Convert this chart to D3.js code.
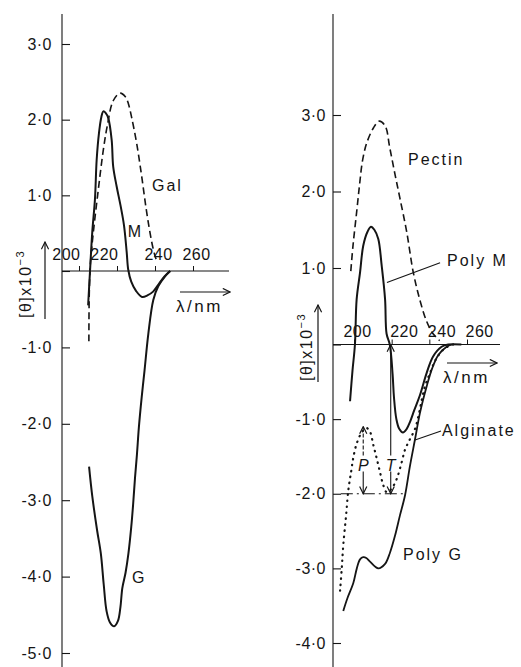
<!DOCTYPE html>
<html>
<head>
<meta charset="utf-8">
<script src="https://cdn.jsdelivr.net/npm/d3@7"></script>
<style>
  body { margin: 0; background: #fff; }
  text { font-family: "Liberation Sans", Arial, sans-serif; fill: #151515; }
  .tick text { font-size: 16px; letter-spacing: 0.5px; }
  .curve { fill: none; stroke: #151515; }
</style>
</head>
<body>
<div id="chart"></div>
<script>
// axis ticks
const wavelengthTicks = [200, 220, 240, 260];
const leftValueTicks = [-5, -4, -3, -2, -1, 0, 1, 2, 3];
const rightValueTicks = [-4, -3, -2, -1, 0, 1, 2, 3];

// left panel: [wavelength nm, [θ] x 10^-3]
const gal = [[205.2,-0.92],[205.4,-0.3],[206,0.1],[207.5,0.5],[209.8,1.0],[212.8,1.6],[214.9,1.92],
  [218,2.25],[221.6,2.35],[224.5,2.3],[226,2.21],[227.7,2.03],[230.4,1.68],[233,1.25],[235.6,0.78],
  [238.3,0.38],[240,0.2],[241,0.13]];
const polyMLeft = [[204.8,-0.45],[205.8,0],[207,0.52],[208.4,0.95],[209.3,1.47],[210.5,1.82],[211.8,2.04],
  [212.8,2.11],[214,2.09],[215.4,2.02],[217.2,1.73],[218,1.38],[219.8,1.12],[221.9,0.86],[223.7,0.6],
  [225.1,0.25],[225.9,0.02],[227.5,-0.14],[230,-0.26],[233.2,-0.34],[236,-0.32],[239,-0.27],[242,-0.17],
  [245,-0.07],[248,0]];
const polyGLeft = [[205.3,-2.56],[207,-2.95],[209.5,-3.39],[211.5,-3.7],[213,-4.1],[214.5,-4.45],[216.3,-4.6],
  [218.5,-4.65],[220.5,-4.58],[221.8,-4.4],[222.8,-4.15],[224.5,-3.95],[226,-3.7],[227.5,-3.35],[228.5,-3.05],
  [229.5,-2.7],[230.5,-2.4],[231.5,-2.05],[233,-1.65],[234.5,-1.3],[236.5,-0.82],[239.1,-0.38],[241.7,-0.2],
  [245.3,-0.07],[248,0]];

// right panel
const pectin = [[198.3,0.96],[199.5,1.3],[201.4,1.73],[203,2.1],[204.5,2.4],[206.7,2.63],[210.3,2.83],
  [213.4,2.92],[216.5,2.86],[219,2.57],[221.8,2.22],[224.4,1.91],[228,1.47],[231.5,0.94],[235,0.58],
  [238.6,0.3],[242,0.14],[245.5,0.05]];
const polyM = [[197.9,-0.76],[199.2,-0.35],[200.5,0],[201.4,0.59],[203.2,0.94],[204.9,1.29],[207.1,1.47],
  [209,1.54],[210.8,1.5],[212.9,1.38],[214.7,1.03],[216.5,0.59],[217.3,0.14],[219,0],[220.5,-0.4],
  [221.2,-0.7],[222.5,-1.0],[224,-1.13],[226,-1.18],[228,-1.13],[229.7,-1.04],[232,-0.88],[235,-0.68],
  [238.6,-0.38],[242,-0.16],[246.5,-0.03],[250,0],[257,0]];
const polyG = [[194.3,-3.57],[196.5,-3.4],[199.6,-3.2],[201.5,-3.0],[203.2,-2.88],[204.9,-2.85],[206.5,-2.86],
  [208.5,-2.91],[212.9,-3.0],[216.5,-2.94],[219.1,-2.79],[221.8,-2.56],[224.4,-2.29],[227.1,-2.02],
  [229.7,-1.63],[232.4,-1.27],[235,-0.92],[238.6,-0.56],[241.5,-0.32],[244.8,-0.14],[249.2,-0.03],[252,0]];
const alginate = [[192.6,-3.3],[193.5,-3.0],[194.3,-2.69],[195.8,-2.29],[197,-1.95],[198.5,-1.7],[199.6,-1.52],
  [201.4,-1.33],[204.1,-1.18],[206.7,-1.12],[208.5,-1.17],[210.3,-1.35],[212.1,-1.53],[213.8,-1.71],
  [215.6,-1.89],[217.4,-1.98],[220,-1.93],[222.7,-1.8],[225.3,-1.58],[227.1,-1.41],[229.7,-1.27],
  [232.4,-1.13],[234.2,-0.96],[236,-0.74],[237.7,-0.56],[240.4,-0.38],[243.9,-0.18],[248.3,-0.05],[252.7,0]];

// P and T markers on the alginate curve (nm, top value), both down to -2.0
const markerNames = ["P", "T"];
const markerNm = [204.9, 219.5];
const markerTop = [-1.1, 0];
const markerBase = -2.0;

const width = 521, height = 667;

const svg = d3.select("#chart").append("svg")
    .attr("width", width)
    .attr("height", height);

svg.append("rect").attr("width", width).attr("height", height).attr("fill", "#fff");

const defs = svg.append("defs");
defs.append("marker")
    .attr("id", "open-arrow")
    .attr("viewBox", "0 0 10 10")
    .attr("refX", 9).attr("refY", 5)
    .attr("markerWidth", 9).attr("markerHeight", 9)
    .attr("markerUnits", "userSpaceOnUse")
    .attr("orient", "auto-start-reverse")
    .append("path")
    .attr("d", "M1,1 L9,5 L1,9")
    .attr("fill", "none").attr("stroke", "#151515").attr("stroke-width", 1.3);

const fmt = d => d === 0 ? "" : (d < 0 ? "-" : "") + Math.abs(d) + "·0";

function drawPanel(opt) {
    const g = svg.append("g");
    const x = opt.x, y = opt.y;

    // vertical axis
    g.append("line")
        .attr("x1", opt.axisX).attr("x2", opt.axisX)
        .attr("y1", 14).attr("y2", height)
        .attr("stroke", "#151515").attr("stroke-width", 1.1);

    const yAxis = g.append("g")
        .attr("transform", `translate(${opt.axisX},0)`)
        .call(d3.axisLeft(y).tickValues(opt.valueTicks).tickFormat(fmt)
            .tickSizeInner(-8).tickSizeOuter(0).tickPadding(opt.labelPad));
    yAxis.select(".domain").remove();
    yAxis.selectAll(".tick line").attr("stroke", "#151515").attr("stroke-width", 1.1);
    yAxis.selectAll(".tick text").attr("fill", "#151515").style("font-family", "Liberation Sans, Arial, sans-serif");

    // horizontal axis at zero
    g.append("line")
        .attr("x1", opt.axisX).attr("x2", opt.xEnd)
        .attr("y1", y(0)).attr("y2", y(0))
        .attr("stroke", "#151515").attr("stroke-width", 1.1);

    const xAxis = g.append("g")
        .attr("transform", `translate(0,${y(0)})`)
        .call(d3.axisTop(x).tickValues(wavelengthTicks).tickFormat(d3.format("d"))
            .tickSizeInner(5).tickSizeOuter(0).tickPadding(opt.xPad));
    xAxis.select(".domain").remove();
    xAxis.selectAll(".tick line").attr("stroke", "#151515");
    xAxis.selectAll(".tick text")
        .attr("fill", "#151515")
        .style("font-family", "Liberation Sans, Arial, sans-serif")
        .attr("text-anchor", (d, i) => opt.xAnchor[i])
        .attr("dx", (d, i) => opt.xAnchor[i] === "start" ? -2 : (opt.xAnchor[i] === "end" ? 1 : 3));

    const line = d3.line()
        .x(d => x(d[0]))
        .y(d => y(d[1]))
        .curve(d3.curveCatmullRom.alpha(0.5));

    opt.series.forEach(s => {
        g.append("path")
            .datum(s.data)
            .attr("class", "curve")
            .attr("d", line)
            .attr("stroke-width", s.width)
            .attr("stroke-dasharray", s.dash)
            .attr("stroke-linecap", s.cap || "butt");
    });

    opt.labels.forEach(l => {
        g.append("text")
            .attr("x", x(l.at[0])).attr("y", y(l.at[1]))
            .attr("font-size", 16)
            .attr("letter-spacing", 2)
            .text(l.text);
        if (l.leader) {
            g.append("line")
                .attr("x1", x(l.leader[0][0])).attr("y1", y(l.leader[0][1]))
                .attr("x2", x(l.leader[1][0])).attr("y2", y(l.leader[1][1]))
                .attr("stroke", "#151515").attr("stroke-width", 1.1);
        }
    });

    // rotated y title with arrow
    const t = g.append("text")
        .attr("transform", `translate(${opt.titleX},${opt.titleY}) rotate(-90)`)
        .attr("font-size", 16)
        .attr("letter-spacing", 1.5);
    t.append("tspan").text("[θ]x10");
    t.append("tspan").attr("font-size", 11).attr("dy", -7).text("−3");
    g.append("line")
        .attr("x1", opt.arrowX).attr("x2", opt.arrowX)
        .attr("y1", opt.titleY + 1).attr("y2", opt.titleY - 76)
        .attr("stroke", "#151515").attr("stroke-width", 1.2)
        .attr("marker-end", "url(#open-arrow)");

    // λ/nm with arrow above
    g.append("text")
        .attr("x", opt.lambdaX).attr("y", opt.lambdaY)
        .attr("font-size", 17)
        .attr("letter-spacing", 2.5)
        .text("λ/nm");
    g.append("line")
        .attr("x1", opt.lambdaX + 4).attr("x2", opt.lambdaX + 54)
        .attr("y1", opt.lambdaY - 20).attr("y2", opt.lambdaY - 20)
        .attr("stroke", "#151515").attr("stroke-width", 1.1)
        .attr("marker-end", "url(#open-arrow)");

    return g;
}

const xL = d3.scaleLinear().domain([200, 260]).range([79, 193]);
const yL = d3.scaleLinear().domain([-5, 0, 3]).range([653, 271, 44]);
const xR = d3.scaleLinear().domain([200, 260]).range([354, 467]);
const yR = d3.scaleLinear().domain([-4, 0, 3]).range([643, 344.5, 115]);

drawPanel({
    x: xL, y: yL, axisX: 62, xEnd: 229, valueTicks: leftValueTicks, labelPad: 10, xPad: 6,
    xAnchor: ["end", "end", "middle", "middle"],
    series: [
        { data: gal, width: 1.6, dash: "7,4" },
        { data: polyMLeft, width: 2 },
        { data: polyGLeft, width: 2 }
    ],
    labels: [
        { text: "Gal", at: [238.4, 1.06] },
        { text: "M", at: [225.6, 0.45] },
        { text: "G", at: [227.9, -4.08] }
    ],
    titleX: 31, titleY: 318, arrowX: 45,
    lambdaX: 176, lambdaY: 312
});

const right = drawPanel({
    x: xR, y: yR, axisX: 333, xEnd: 500, valueTicks: rightValueTicks, labelPad: 7, xPad: 3,
    xAnchor: ["middle", "start", "start", "start"],
    series: [
        { data: pectin, width: 1.6, dash: "7,4" },
        { data: polyM, width: 2 },
        { data: polyG, width: 1.8 },
        { data: alginate, width: 2.2, dash: "0.5,5.5", cap: "round" }
    ],
    labels: [
        { text: "Pectin", at: [228.7, 2.34] },
        { text: "Poly M", at: [249.4, 1.03], leader: [[245.7, 1.07], [217.5, 0.81]] },
        { text: "Alginate", at: [246.7, -1.23], leader: [[246.2, -1.16], [232.4, -1.28]] },
        { text: "Poly G", at: [226, -2.89] }
    ],
    titleX: 312, titleY: 381, arrowX: 318,
    lambdaX: 443, lambdaY: 383
});

// baseline at -2.0 for the P / T peak heights
right.append("line")
    .attr("x1", xR(193)).attr("x2", xR(226.5))
    .attr("y1", yR(markerBase)).attr("y2", yR(markerBase))
    .attr("stroke", "#151515").attr("stroke-width", 1.1)
    .attr("stroke-dasharray", "12,4,2,4");

markerNames.forEach((name, i) => {
    const mx = xR(markerNm[i]);
    const top = yR(markerTop[i]);
    const bottom = yR(markerBase);
    const mid = yR(-1.62);
    right.append("line")
        .attr("x1", mx).attr("x2", mx)
        .attr("y1", mid - 10).attr("y2", top)
        .attr("stroke", "#151515").attr("stroke-width", 1.1)
        .attr("stroke-dasharray", i === 0 ? "4,2" : null)
        .attr("marker-end", "url(#open-arrow)");
    right.append("line")
        .attr("x1", mx).attr("x2", mx)
        .attr("y1", mid + 6).attr("y2", bottom)
        .attr("stroke", "#151515").attr("stroke-width", 1.1)
        .attr("marker-end", "url(#open-arrow)");
    right.append("text")
        .attr("x", mx).attr("y", mid + 6)
        .attr("text-anchor", "middle")
        .attr("font-size", 16)
        .attr("font-style", "italic")
        .text(name);
});
</script>
</body>
</html>
